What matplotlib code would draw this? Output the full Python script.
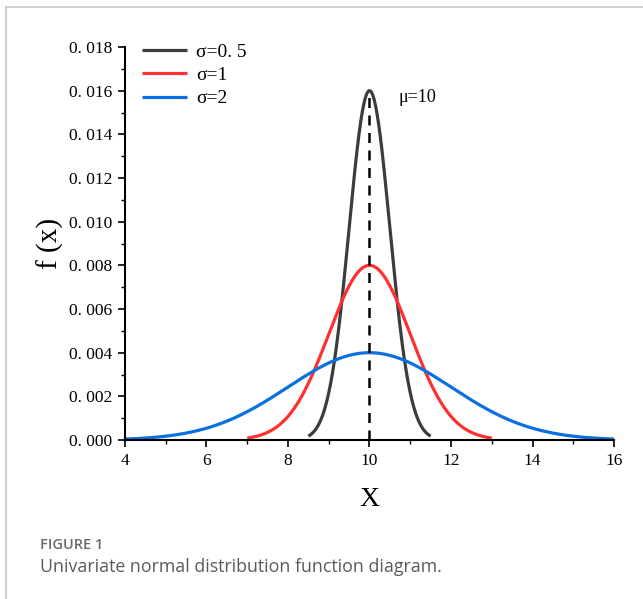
import matplotlib
matplotlib.use("Agg")
import matplotlib.pyplot as plt
from matplotlib.lines import Line2D
from matplotlib.ticker import MultipleLocator
import numpy as np

# curve parameters: mean, spreads and peak heights of f(x)
mu = 10
sigmas = [0.5, 1, 2]
peaks = [0.016, 0.008, 0.004]
labels = ["\u03c3=0. 5", "\u03c3=1", "\u03c3=2"]
colors = ["#3c3c3c", "#ff3030", "#0a6fe0"]

xticks = [4, 6, 8, 10, 12, 14, 16]
yticks = [0.000, 0.002, 0.004, 0.006, 0.008, 0.010, 0.012, 0.014, 0.016, 0.018]
ytick_labels = ["0. 000", "0. 002", "0. 004", "0. 006", "0. 008",
                "0. 010", "0. 012", "0. 014", "0. 016", "0. 018"]

serif = ["Liberation Serif", "DejaVu Serif"]

fig = plt.figure(figsize=(6.43, 5.99), dpi=100)
ax = fig.add_axes([0.1944, 0.2654, 0.7605, 0.6561])

for s, p, lab, c in zip(sigmas, peaks, labels, colors):
    x = np.linspace(mu - 3 * s, mu + 3 * s, 400)
    y = p * np.exp(-(x - mu) ** 2 / (2 * s ** 2))
    ax.plot(x, y, color=c, lw=2.3, label=lab, solid_capstyle="butt")

# dashed line marking the mean
ax.plot([mu, mu], [0, max(peaks)], color="black", lw=1.8, ls=(0, (4, 3)))
ax.text(mu + 0.7, 0.0157, "\u03bc=10", fontsize=13, family=serif, va="center")

ax.set_xlim(4, 16)
ax.set_ylim(0, 0.018)
ax.set_xticks(xticks)
ax.set_xticklabels([str(t) for t in xticks], family=serif, fontsize=12.5)
ax.set_yticks(yticks)
ax.set_yticklabels(ytick_labels, family=serif, fontsize=12.5)
ax.xaxis.set_minor_locator(MultipleLocator(1))
ax.yaxis.set_minor_locator(MultipleLocator(0.001))
ax.tick_params(which="major", direction="out", length=5, width=1.2, pad=4)
ax.tick_params(which="minor", direction="out", length=3, width=1.0)

for side in ["top", "right"]:
    ax.spines[side].set_visible(False)
for side in ["left", "bottom"]:
    ax.spines[side].set_linewidth(1.5)

ax.set_xlabel("X", family=serif, fontsize=20, labelpad=13)
ax.set_ylabel("f (x)", family=serif, fontsize=21, labelpad=4)

leg = ax.legend(loc="upper left", bbox_to_anchor=(0.0, 1.055), frameon=False,
                prop={"family": serif, "size": 14}, handlelength=2.3,
                handletextpad=0.45, labelspacing=0.3)

# page frame and caption
fx, fy = 6 / 643, 1 - 7 / 599
fig.add_artist(Line2D([fx, fx], [0, fy], color="#c8c8c8", lw=1.2))
fig.add_artist(Line2D([fx, 1], [fy, fy], color="#c8c8c8", lw=1.2))
fig.text(40 / 643, 1 - 545 / 599, "FIGURE 1", family="Open Sans", fontsize=10.5,
         color="#6a6a6a", fontweight="semibold", va="center")
fig.text(40 / 643, 1 - 567 / 599, "Univariate normal distribution function diagram.",
         family="Open Sans", fontsize=12.8, color="#5a5a5a", va="center")

fig.savefig("out.png", dpi=100)
